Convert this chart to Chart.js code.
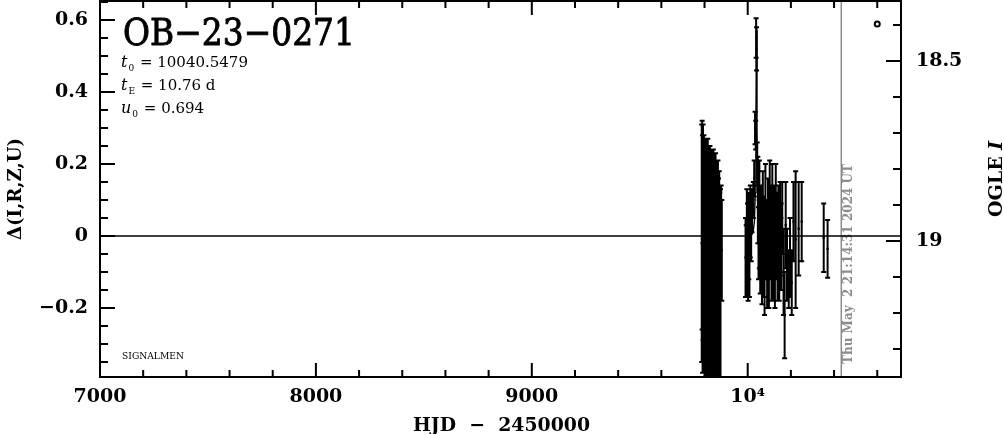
<!DOCTYPE html>
<html>
<head>
<meta charset="utf-8">
<script src="https://cdn.jsdelivr.net/npm/chart.js@4.4.3/dist/chart.umd.min.js"></script>
<style>
  html, body { margin: 0; padding: 0; background: #fff; }
  #wrap { width: 1004px; height: 434px; position: relative; }
</style>
</head>
<body>
<div id="wrap"><canvas id="lc"></canvas></div>
<script>
// OB-23-0271 light curve

const hjd = [
  9787, 9789, 9791, 9793, 9795, 9797, 9799, 9801, 9803, 9805,
  9807, 9809, 9811, 9813, 9815, 9817, 9819, 9821, 9823, 9825,
  9827, 9829, 9831, 9833, 9835, 9837, 9839, 9841, 9843, 9845,
  9847, 9849, 9851, 9853, 9856, 9859, 9862, 9865, 9868, 9871,
  9874, 9877, 9880,
  9990, 9993, 9996, 9999, 10002, 10005, 10008, 10012, 10016, 10020,
  10026, 10030, 10034, 10037, 10039, 10041, 10044,
  10047, 10050, 10054, 10058, 10062, 10066, 10070, 10074, 10078, 10082,
  10086, 10090, 10094, 10098, 10102, 10106, 10110, 10114, 10118, 10122,
  10126, 10130, 10134, 10138, 10142, 10146, 10150, 10155, 10160, 10166,
  10171, 10176, 10182, 10190, 10196, 10204, 10212, 10222, 10236, 10250,
  10352, 10370
];
const delta = [
  -0.02, 0.03, -0.05, 0.01, -0.08, 0.02, -0.04, 0.05, -0.10, 0.00,
  -0.06, 0.04, -0.03, -0.12, 0.02, -0.07, 0.05, -0.09, -0.01, -0.05,
  0.03, -0.13, -0.02, -0.07, 0.01, -0.10, -0.04, -0.08, 0.00, -0.06,
  -0.11, -0.03, -0.08, -0.01, -0.09, -0.02, -0.10, -0.01, -0.12, -0.03,
  -0.15, -0.02, -0.04,
  -0.06, -0.07, -0.02, -0.04, -0.08, 0.00, -0.05, 0.04, 0.02, 0.07,
  0.10, 0.16, 0.30, 0.28, 0.55, 0.52, 0.20,
  0.10, -0.02, 0.06, -0.05, 0.02, -0.09, 0.05, -0.03, -0.12, 0.08,
  -0.01, -0.07, 0.04, -0.10, 0.09, 0.01, -0.06, 0.07, -0.04, 0.03,
  -0.08, 0.06, 0.00, -0.05, 0.04, -0.07, 0.02, -0.03, 0.05, -0.10,
  -0.22, 0.03, -0.08, -0.12, -0.06, -0.13, 0.04, -0.01, 0.02, 0.04,
  -0.005, -0.036
];
const err = [
  0.33, 0.29, 0.33, 0.30, 0.30, 0.26, 0.31, 0.22, 0.28, 0.27,
  0.33, 0.23, 0.30, 0.28, 0.25, 0.32, 0.20, 0.30, 0.26, 0.30,
  0.21, 0.27, 0.26, 0.31, 0.23, 0.29, 0.27, 0.32, 0.22, 0.29,
  0.30, 0.24, 0.31, 0.20, 0.30, 0.19, 0.31, 0.17, 0.30, 0.15,
  0.28, 0.16, 0.14,
  0.11, 0.10, 0.15, 0.13, 0.10, 0.12, 0.12, 0.10, 0.09, 0.06,
  0.05, 0.05, 0.045, 0.04, 0.055, 0.06, 0.06,
  0.12, 0.10, 0.15, 0.11, 0.12, 0.10, 0.13, 0.14, 0.10, 0.12,
  0.11, 0.13, 0.12, 0.10, 0.12, 0.13, 0.12, 0.13, 0.14, 0.11,
  0.12, 0.14, 0.12, 0.13, 0.10, 0.11, 0.13, 0.12, 0.10, 0.12,
  0.12, 0.12, 0.10, 0.08, 0.11, 0.09, 0.11, 0.19, 0.13, 0.11,
  0.095, 0.08
];

// model curve (flat, with the short bump at t0)
const modelHjd = [7000, 10015, 10025, 10031, 10035, 10038, 10040.5, 10043, 10046, 10050, 10056, 10066, 10710];
const modelDelta = [0, 0, 0.01, 0.04, 0.12, 0.30, 0.57, 0.30, 0.12, 0.04, 0.01, 0, 0];

const xTicks = [7000, 8000, 9000, 10000];
const yTicks = [-0.2, 0, 0.2, 0.4, 0.6];
const magTicks = [18.5, 19];
const nowHjd = 10433.4;
const nowLabel = 'Thu May  2 21:14:31 2024 UT';
const markHjd = [10600];
const markDelta = [0.589];

const tickFont = { family: 'DejaVu Serif', weight: 'bold', size: 19 };

function fitText(ctx, str, x, y, font, w, stroke) {
  ctx.font = font;
  const m = ctx.measureText(str).width;
  ctx.save();
  ctx.translate(x, y);
  ctx.scale(w / m, 1);
  ctx.fillText(str, 0, 0);
  if (stroke) {
    ctx.lineWidth = stroke;
    ctx.strokeStyle = ctx.fillStyle;
    ctx.strokeText(str, 0, 0);
  }
  ctx.restore();
}

function fmtDelta(v) {
  if (Math.abs(v) < 1e-9) return '0';
  return (v < 0 ? '\u2212' : '') + Math.abs(v).toFixed(1);
}

// keep the plot box fixed: no extra room for half-labels
function fixBox(prop, size) {
  return s => {
    s[prop] = size;
    s.paddingTop = 0; s.paddingBottom = 0;
    s.paddingLeft = 0; s.paddingRight = 0;
  };
}

const decor = {
  id: 'decor',
  beforeDatasetsDraw(chart) {
    const { ctx, chartArea: a, scales: { x } } = chart;
    const px = x.getPixelForValue(nowHjd);
    ctx.save();
    ctx.strokeStyle = '#8c8c8c';
    ctx.lineWidth = 1.5;
    ctx.beginPath();
    ctx.moveTo(px, a.top);
    ctx.lineTo(px, a.bottom);
    ctx.stroke();
    ctx.translate(px + 8, a.top + 263);
    ctx.rotate(-Math.PI / 2);
    ctx.fillStyle = '#8c8c8c';
    ctx.textBaseline = 'middle';
    fitText(ctx, nowLabel, -100, 0, 'bold 12px "DejaVu Serif"', 200);
    ctx.restore();
  },
  afterDatasetsDraw(chart) {
    const { ctx, chartArea: a, scales: { x, y } } = chart;
    ctx.save();
    ctx.beginPath();
    ctx.rect(a.left, a.top, a.right - a.left, a.bottom - a.top);
    ctx.clip();
    ctx.strokeStyle = '#000';
    ctx.lineWidth = 2;
    ctx.beginPath();
    hjd.forEach((t, i) => {
      const px = x.getPixelForValue(t);
      const y1 = y.getPixelForValue(delta[i] + err[i]);
      const y2 = y.getPixelForValue(delta[i] - err[i]);
      ctx.moveTo(px, y1); ctx.lineTo(px, y2);
      ctx.moveTo(px - 2.5, y1); ctx.lineTo(px + 2.5, y1);
      ctx.moveTo(px - 2.5, y2); ctx.lineTo(px + 2.5, y2);
    });
    ctx.stroke();
    ctx.restore();
  },
  afterDraw(chart) {
    const { ctx, chartArea: a, scales: { x, y, y2 } } = chart;
    ctx.save();
    ctx.strokeStyle = '#000';
    ctx.lineWidth = 2;
    ctx.strokeRect(a.left, a.top, a.right - a.left, a.bottom - a.top);
    ctx.beginPath();
    // x ticks, bottom and top, pointing in
    for (let v = 7000; v <= 10710; v += 200) {
      const px = x.getPixelForValue(v);
      const len = v % 1000 === 0 ? 14 : 7;
      ctx.moveTo(px, a.bottom); ctx.lineTo(px, a.bottom - len);
      ctx.moveTo(px, a.top); ctx.lineTo(px, a.top + len);
    }
    // left ticks
    for (let k = -7; k <= 13; k++) {
      const py = y.getPixelForValue(k * 0.05);
      if (py < a.top || py > a.bottom) continue;
      const len = k % 4 === 0 ? 15 : 8;
      ctx.moveTo(a.left, py); ctx.lineTo(a.left + len, py);
    }
    // right ticks (magnitudes)
    for (let k = 184; k <= 193; k++) {
      const py = y2.getPixelForValue(k / 10);
      if (py < a.top || py > a.bottom) continue;
      const len = k % 5 === 0 ? 15 : 8;
      ctx.moveTo(a.right, py); ctx.lineTo(a.right - len, py);
    }
    ctx.stroke();

    ctx.fillStyle = '#000';
    ctx.textBaseline = 'alphabetic';
    ctx.textAlign = 'left';
    fitText(ctx, 'OB\u221223\u22120271', 123, 45, '37px "DejaVu Serif"', 232, 0.9);

    // fit parameters
    const pars = [['t', '0', ' = 10040.5479', 67], ['t', 'E', ' = 10.76 d', 90], ['u', '0', ' = 0.694', 113]];
    pars.forEach(([sym, sub, rest, by]) => {
      ctx.font = 'italic 16px "DejaVu Serif"';
      ctx.fillText(sym, 121, by);
      const w1 = ctx.measureText(sym).width;
      ctx.font = '9px "DejaVu Serif"';
      ctx.fillText(sub, 121 + w1 + 1, by + 4);
      const w2 = ctx.measureText(sub).width;
      ctx.font = '15px "DejaVu Serif"';
      ctx.fillText(rest, 121 + w1 + w2 + 2, by);
    });

    fitText(ctx, 'SIGNALMEN', 122, 359, '9px "DejaVu Serif"', 62);

    // axis titles
    fitText(ctx, 'HJD  \u2212  2450000', 413, 431, 'bold 19px "DejaVu Serif"', 177);

    ctx.save();
    ctx.translate(21, 240);
    ctx.rotate(-Math.PI / 2);
    fitText(ctx, '\u0394(I,R,Z,U)', 0, 0, 'bold 19px "DejaVu Serif"', 102);
    ctx.restore();

    ctx.save();
    ctx.translate(1002, 217);
    ctx.rotate(-Math.PI / 2);
    ctx.font = 'bold 19px "DejaVu Serif"';
    ctx.fillText('OGLE ', 0, 0);
    const wo = ctx.measureText('OGLE ').width;
    ctx.font = 'italic bold 19px "DejaVu Serif"';
    ctx.fillText('I', wo, 0);
    ctx.restore();
    ctx.restore();
  }
};

new Chart(document.getElementById('lc'), {
  type: 'scatter',
  data: {
    datasets: [
      {
        data: hjd.map((t, i) => ({ x: t, y: delta[i] })),
        pointStyle: 'rect',
        pointRadius: 1.6,
        backgroundColor: '#000',
        borderColor: '#000',
        borderWidth: 0
      },
      {
        type: 'line',
        data: modelHjd.map((t, i) => ({ x: t, y: modelDelta[i] })),
        borderColor: '#000',
        borderWidth: 1.4,
        pointRadius: 0,
        tension: 0,
        fill: false
      },
      {
        data: markHjd.map((t, i) => ({ x: t, y: markDelta[i] })),
        pointStyle: 'circle',
        pointRadius: 2.5,
        backgroundColor: '#fff',
        borderColor: '#000',
        borderWidth: 2
      }
    ]
  },
  options: {
    responsive: true,
    maintainAspectRatio: false,
    animation: false,
    layout: { autoPadding: false, padding: { top: 1, left: 0, right: 0, bottom: 0 } },
    plugins: { legend: { display: false }, tooltip: { enabled: false } },
    scales: {
      x: {
        type: 'linear', min: 7000, max: 10710, position: 'bottom',
        afterBuildTicks: s => { s.ticks = xTicks.map(v => ({ value: v })); },
        afterFit: fixBox('height', 57),
        grid: { display: false, drawTicks: false },
        border: { display: false },
        ticks: {
          font: tickFont, color: '#000', padding: 9, maxRotation: 0, autoSkip: false,
          callback: v => v === 10000 ? '10\u2074' : String(v)
        }
      },
      y: {
        min: -0.392, max: 0.653, position: 'left',
        afterBuildTicks: s => { s.ticks = yTicks.map(v => ({ value: v })); },
        afterFit: fixBox('width', 100),
        grid: { display: false, drawTicks: false },
        border: { display: false },
        ticks: { font: tickFont, color: '#000', padding: 12, autoSkip: false, callback: v => fmtDelta(v) }
      },
      y2: {
        min: 18.333, max: 19.378, reverse: true, position: 'right',
        afterBuildTicks: s => { s.ticks = magTicks.map(v => ({ value: v })); },
        afterFit: fixBox('width', 103),
        grid: { display: false, drawTicks: false },
        border: { display: false },
        ticks: { font: tickFont, color: '#000', padding: 15, autoSkip: false, callback: v => v === 19 ? '19' : v.toFixed(1) }
      }
    }
  },
  plugins: [decor]
});
</script>
</body>
</html>
